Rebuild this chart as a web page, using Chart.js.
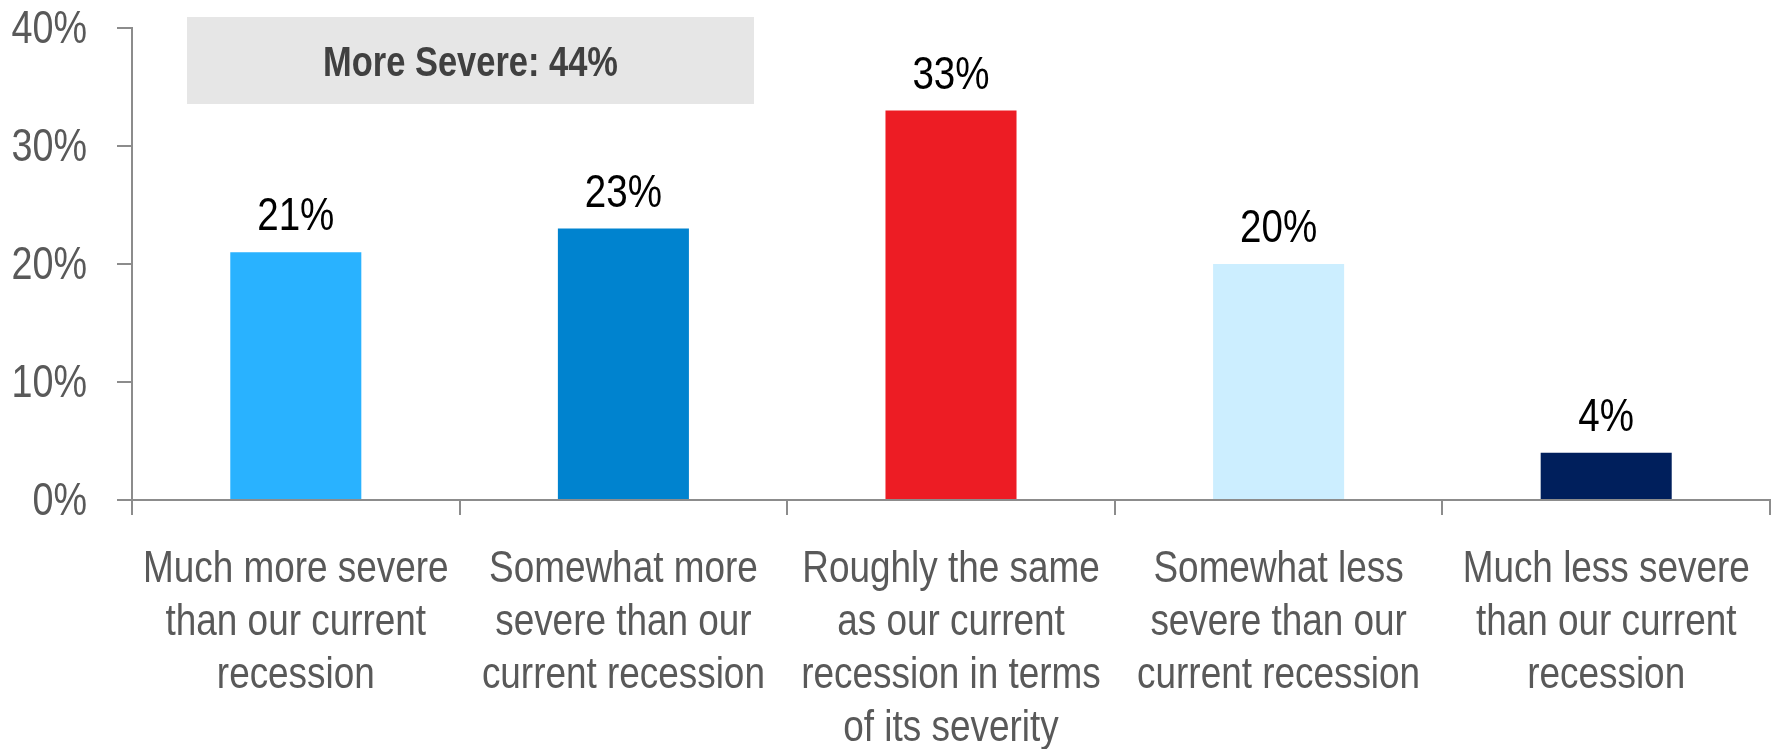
<!DOCTYPE html>
<html>
<head>
<meta charset="utf-8">
<script src="https://cdn.jsdelivr.net/npm/chart.js@4"></script>
<style>
  html, body { margin: 0; padding: 0; background: #fff; }
  #wrap { width: 1778px; height: 749px; position: relative; }
</style>
</head>
<body>
<div id="wrap"><canvas id="severityChart"></canvas></div>
<script>
const categories = [
    ["Much more severe", "than our current", "recession"],
    ["Somewhat more", "severe than our", "current recession"],
    ["Roughly the same", "as our current", "recession in terms", "of its severity"],
    ["Somewhat less", "severe than our", "current recession"],
    ["Much less severe", "than our current", "recession"]
];
const shares = [21, 23, 33, 20, 4];
const barColors = ["#29b2ff", "#0083cf", "#ed1c24", "#cceeff", "#001f5c"];
const yTicks = [0, 10, 20, 30, 40];

const FONT = "'Liberation Sans', Arial, sans-serif";
const NARROW = 0.82;   // squeeze Liberation Sans to a narrow face
const AXIS_GREY = '#8c8c8c';
const LABEL_GREY = '#595959';

function narrowText(ctx, text, x, y, align) {
    ctx.save();
    ctx.translate(x, y);
    ctx.scale(NARROW, 1);
    ctx.textAlign = align;
    ctx.fillText(text, 0, 0);
    ctx.restore();
}

// axis labels drawn by hand so they can use the narrow face
const axisLabels = {
    id: 'axisLabels',
    afterDraw(chart) {
        const ctx = chart.ctx;
        const xs = chart.scales.x, ys = chart.scales.y;
        ctx.save();
        ctx.fillStyle = LABEL_GREY;
        ctx.textBaseline = 'middle';

        ctx.font = '46px ' + FONT;
        ys.ticks.forEach((t, i) => {
            narrowText(ctx, t.value + '%', ys.right - 45, ys.getPixelForTick(i) + 2, 'right');
        });

        ctx.font = '45px ' + FONT;
        const lineH = 53;
        categories.forEach((lines, i) => {
            const cx = xs.getPixelForTick(i);
            lines.forEach((line, j) => {
                narrowText(ctx, line, cx, xs.top + 70 + j * lineH, 'center');
            });
        });
        ctx.restore();
    }
};

// value labels over each bar
const valueLabels = {
    id: 'valueLabels',
    afterDatasetsDraw(chart) {
        const ctx = chart.ctx;
        const meta = chart.getDatasetMeta(0);
        ctx.save();
        ctx.font = '47px ' + FONT;
        ctx.fillStyle = '#000';
        ctx.textBaseline = 'alphabetic';
        meta.data.forEach((bar, i) => {
            narrowText(ctx, shares[i] + '%', bar.x, bar.y - 22, 'center');
        });
        ctx.restore();
    }
};

// grey summary box for the "more severe" answers
const summaryBox = {
    id: 'summaryBox',
    afterDraw(chart) {
        const ctx = chart.ctx;
        const total = shares[0] + shares[1];
        const x0 = 187, x1 = 754, y0 = 17, y1 = 104;
        ctx.save();
        ctx.fillStyle = '#e6e6e6';
        ctx.fillRect(x0, y0, x1 - x0, y1 - y0);
        ctx.font = 'bold 42px ' + FONT;
        ctx.fillStyle = '#404040';
        ctx.textBaseline = 'middle';
        narrowText(ctx, 'More Severe: ' + total + '%', (x0 + x1) / 2, (y0 + y1) / 2 + 4, 'center');
        ctx.restore();
    }
};

new Chart(document.getElementById('severityChart'), {
    type: 'bar',
    data: {
        labels: categories,
        datasets: [{
            data: shares,
            backgroundColor: barColors,
            borderWidth: 0,
            barPercentage: 0.4,
            categoryPercentage: 1.0
        }]
    },
    options: {
        responsive: true,
        maintainAspectRatio: false,
        animation: false,
        layout: { padding: { top: 28, right: 8, left: 0, bottom: 0 } },
        plugins: { legend: { display: false }, tooltip: { enabled: false } },
        scales: {
            x: {
                grid: {
                    offset: true,
                    drawOnChartArea: false,
                    tickLength: 15,
                    color: AXIS_GREY,
                    lineWidth: 2
                },
                border: { color: AXIS_GREY, width: 2 },
                ticks: { display: false },
                afterFit(scale) { scale.height = 249; }
            },
            y: {
                min: 0,
                max: 40,
                afterBuildTicks(scale) { scale.ticks = yTicks.map(v => ({ value: v })); },
                grid: {
                    drawOnChartArea: false,
                    tickLength: 15,
                    color: AXIS_GREY,
                    lineWidth: 2
                },
                border: { color: AXIS_GREY, width: 2 },
                ticks: { display: false },
                afterFit(scale) { scale.width = 132; }
            }
        }
    },
    plugins: [valueLabels, summaryBox, axisLabels]
});
</script>
</body>
</html>
